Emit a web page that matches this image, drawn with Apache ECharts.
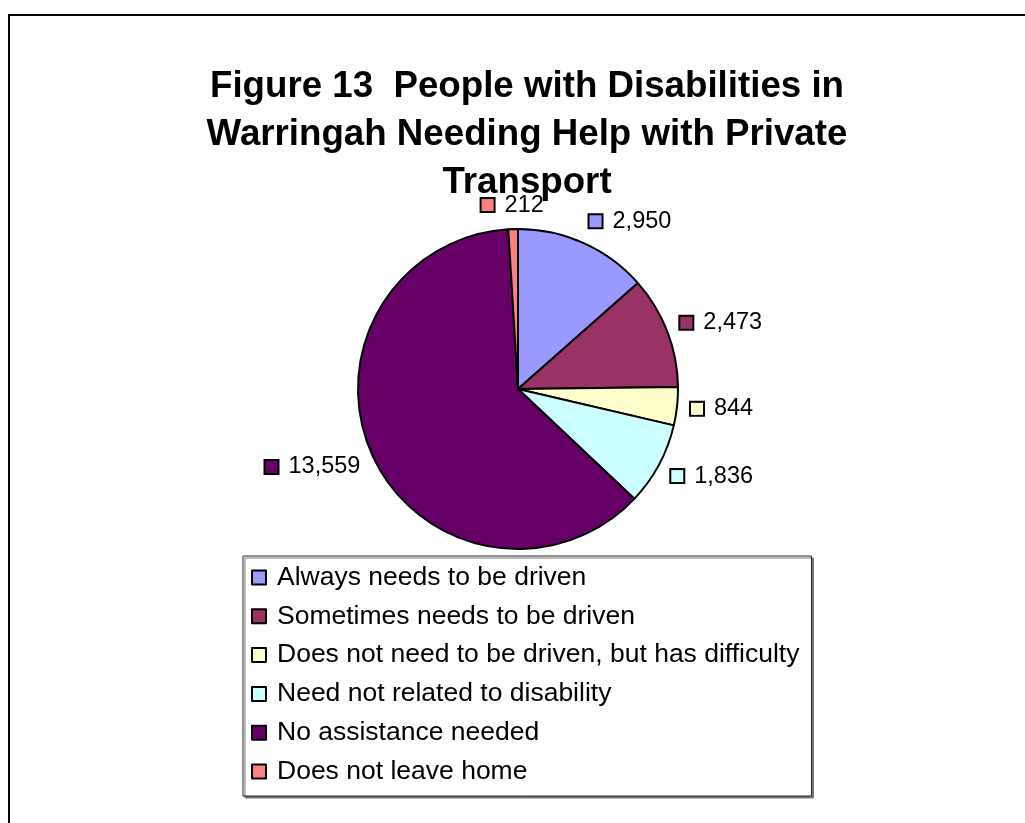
<!DOCTYPE html>
<html>
<head>
<meta charset="utf-8">
<script src="https://cdn.jsdelivr.net/npm/echarts@6/dist/echarts.min.js"></script>
<style>
  html, body { margin: 0; padding: 0; background: #ffffff; }
  #chart { width: 1025px; height: 823px; }
</style>
</head>
<body>
<div id="chart"></div>
<script>
// Transport assistance needed by people with disabilities, Warringah
const categories = [
  'Always needs to be driven',
  'Sometimes needs to be driven',
  'Does not need to be driven, but has difficulty',
  'Need not related to disability',
  'No assistance needed',
  'Does not leave home'
];
const counts = [2950, 2473, 844, 1836, 13559, 212];
const sliceColors = ['#9999FF', '#993366', '#FFFFCC', '#CCFFFF', '#660066', '#FF8080'];
const titleLines = [
  'Figure 13  People with Disabilities in',
  'Warringah Needing Help with Private',
  'Transport'
];

const FONT = '"Liberation Sans", Arial, sans-serif';
const CX = 518, CY = 389, R = 160;

// mid-angle of each slice, clockwise from 12 o'clock
const total = counts.reduce((a, b) => a + b, 0);
const midAngles = [];
let acc = 0;
counts.forEach(v => { midAngles.push((acc + v / 2) / total * 2 * Math.PI); acc += v; });

const fmt = v => v.toLocaleString('en-US');

const pieData = counts.map((v, i) => ({
  name: categories[i],
  value: v,
  itemStyle: { color: sliceColors[i] },
  label: {
    rich: {
      sq: {
        width: 12, height: 12,
        backgroundColor: sliceColors[i],
        borderColor: '#000', borderWidth: 2
      }
    }
  }
}));

const chart = echarts.init(document.getElementById('chart'), null, { renderer: 'canvas' });

chart.setOption({
  backgroundColor: '#ffffff',
  animation: false,
  title: {
    text: titleLines.join('\n'),
    left: 522, textAlign: 'center',
    top: 58,
    textStyle: {
      fontFamily: FONT, fontWeight: 'bold', fontSize: 36.7,
      lineHeight: 48, color: '#000'
    }
  },
  legend: {
    orient: 'vertical',
    left: 243, top: 556,
    data: categories,
    icon: 'rect',
    itemWidth: 14, itemHeight: 14,
    itemGap: 11.8,
    padding: [8, 12, 11, 8],
    backgroundColor: '#ffffff',
    borderColor: '#222', borderWidth: 1,
    shadowColor: '#777', shadowBlur: 0, shadowOffsetX: 2, shadowOffsetY: 2,
    selectedMode: false,
    itemStyle: { borderColor: '#000', borderWidth: 2 },
    textStyle: { fontFamily: FONT, fontSize: 26.5, color: '#000', padding: [0, 0, 0, 6] }
  },
  graphic: [{
    type: 'rect',
    shape: { x: 9, y: 15, width: 1040, height: 840 },
    style: { fill: 'none', stroke: '#000', lineWidth: 2 },
    silent: true
  }],
  series: [{
    type: 'pie',
    center: [CX, CY],
    radius: R,
    startAngle: 90,
    clockwise: true,
    data: pieData,
    itemStyle: { borderColor: '#000', borderWidth: 2 },
    emphasis: { disabled: true },
    labelLine: { show: false },
    label: {
      show: true,
      position: 'outside',
      formatter: p => '{sq|}{v|' + fmt(p.value) + '}',
      rich: {
        v: { fontFamily: FONT, fontSize: 23.5, color: '#000', padding: [0, 0, 0, 11] }
      }
    },
    labelLayout: params => {
      const a = midAngles[params.dataIndex];
      const dx = Math.sin(a), dy = -Math.cos(a);
      const r = 174;
      return {
        x: CX + dx * r,
        y: CY + dy * r + dy * 10,
        align: dx > 0.15 ? 'left' : (dx < -0.15 ? 'right' : 'center'),
        verticalAlign: 'middle'
      };
    }
  }]
});
</script>
</body>
</html>
